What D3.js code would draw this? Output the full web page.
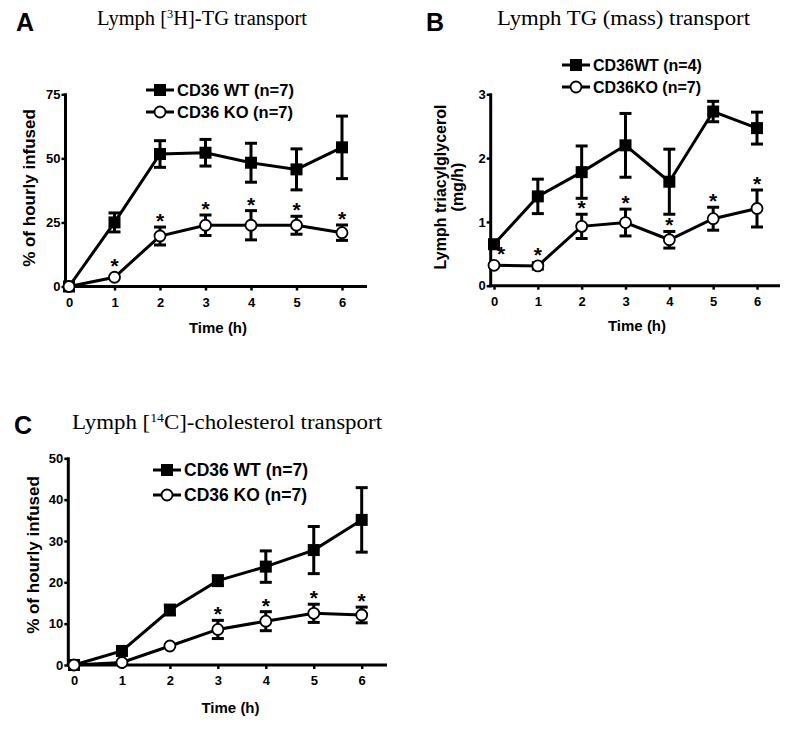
<!DOCTYPE html>
<html><head><meta charset="utf-8">
<script src="https://cdn.jsdelivr.net/npm/d3@7"></script>
<style>body{margin:0;background:#fff}svg{display:block}</style>
</head><body>
<svg id="c" width="791" height="738"></svg>
<script>
const hours = [0,1,2,3,4,5,6];
// Panel A: [3H]-TG transport (% of hourly infused)
const aWT = [0, 25, 51.7, 52.2, 48.3, 45.7, 54.3];
const aWTerr = [0, 3.7, 5.2, 5.2, 7.6, 8, 12.2];
const aKO = [0, 3.6, 19.7, 23.9, 23.9, 23.9, 21];
const aKOerr = [0, 0, 3.5, 4, 5.7, 3.5, 3];
const aStars = [1,2,3,4,5,6];
const aTicks = [0,25,50,75];
// Panel B: TG mass transport (mg/h)
const bWT = [0.65, 1.40, 1.78, 2.20, 1.63, 2.73, 2.47];
const bWTerr = [0, 0.27, 0.41, 0.5, 0.51, 0.16, 0.25];
const bKO = [0.32, 0.31, 0.93, 0.99, 0.72, 1.05, 1.21];
const bKOerr = [0, 0.05, 0.19, 0.21, 0.13, 0.18, 0.29];
const bStars = [0,1,2,3,4,5,6];
const bTicks = [0,1,2,3];
// Panel C: [14C]-cholesterol transport (% of hourly infused)
const cWT = [0, 3.4, 13.3, 20.4, 23.8, 27.8, 35.1];
const cWTerr = [0, 0, 1.2, 1.2, 3.8, 5.7, 7.8];
const cKO = [0, 0.6, 4.6, 8.6, 10.6, 12.5, 12.1];
const cKOerr = [0, 0, 0, 2.2, 2.3, 2.2, 1.9];
const cStars = [3,4,5,6];
const cTicks = [0,10,20,30,40,50];

const svg = d3.select("#c");
const SANS = "'Liberation Sans', Arial, sans-serif";
const SERIF = "'Liberation Serif', 'Times New Roman', serif";

function panel(o){
  const g = svg.append("g");
  const x = d3.scaleLinear().domain([0,6]).range([o.x0, o.x6]);
  const y = d3.scaleLinear().domain([0, o.ymax]).range([o.yb, o.yt]);
  // panel letter
  g.append("text").attr("x", o.lx).attr("y", o.ly).attr("font-family", SANS)
    .attr("font-weight","bold").attr("font-size",25).text(o.letter);
  // title
  const t = g.append("text").attr("x", o.tx).attr("y", o.ty).attr("font-family", SERIF)
    .attr("font-size", 20).attr("textLength", o.tlen).attr("lengthAdjust","spacingAndGlyphs");
  o.title.forEach(p => {
    const s = t.append("tspan").text(p.t);
    if (p.sup) s.attr("baseline-shift","super").attr("font-size",12);
  });
  // axes
  const yAxis = d3.axisLeft(y).tickValues(o.ticks).tickSize(4).tickPadding(1).tickFormat(d3.format("d"));
  const ya = g.append("g").attr("transform",`translate(${o.yax},0)`).call(yAxis);
  const xAxis = d3.axisBottom(x).tickValues(hours).tickSize(4).tickPadding(7).tickFormat(d3.format("d"));
  const xa = g.append("g").attr("transform",`translate(0,${o.yb})`).call(xAxis);
  [ya, xa].forEach(a => {
    a.select(".domain").remove();
    a.selectAll("line").attr("stroke","#000").attr("stroke-width",2.5);
    a.selectAll("text").attr("font-family", SANS).attr("font-weight","bold")
      .attr("font-size",13).attr("fill","#000");
  });
  g.append("line").attr("x1",o.yax).attr("x2",o.yax).attr("y1",o.yt-1).attr("y2",o.yb+1.5)
    .attr("stroke","#000").attr("stroke-width",3);
  g.append("line").attr("x1",o.yax-1.5).attr("x2",o.xend).attr("y1",o.yb).attr("y2",o.yb)
    .attr("stroke","#000").attr("stroke-width",3);
  // axis titles
  g.append("text").attr("x",(o.x0+o.xend)/2).attr("y",o.xty).attr("text-anchor","middle")
    .attr("font-family",SANS).attr("font-weight","bold").attr("font-size",15).text("Time (h)");
  o.ylab.forEach((s,i)=>{
    g.append("text").attr("transform",`translate(${o.ytx + i*17},${o.yty}) rotate(-90)`)
      .attr("text-anchor","middle").attr("font-family",SANS).attr("font-weight","bold")
      .attr("font-size",o.ylfs).text(s);
  });
  const line = d3.line().x((d,i)=>x(hours[i])).y(d=>y(d));
  function series(vals, errs, filled){
    g.append("path").attr("d", line(vals)).attr("fill","none").attr("stroke","#000").attr("stroke-width",3);
    vals.forEach((v,i)=>{
      const e = errs[i];
      if (e > 0){
        const cx = x(hours[i]);
        g.append("line").attr("x1",cx).attr("x2",cx).attr("y1",y(v+e)).attr("y2",y(v-e))
          .attr("stroke","#000").attr("stroke-width",3);
        [v+e, v-e].forEach(w => g.append("line").attr("x1",cx-6).attr("x2",cx+6)
          .attr("y1",y(w)).attr("y2",y(w)).attr("stroke","#000").attr("stroke-width",3));
      }
    });
    vals.forEach((v,i)=>{
      if (filled) g.append("rect").attr("x",x(hours[i])-6).attr("y",y(v)-6).attr("width",12).attr("height",12).attr("fill","#000");
      else g.append("circle").attr("cx",x(hours[i])).attr("cy",y(v)).attr("r",5.5).attr("fill","#fff").attr("stroke","#000").attr("stroke-width",1.8);
    });
  }
  series(o.wt, o.wterr, true);
  series(o.ko, o.koerr, false);
  o.stars.forEach(i=>{
    const v = o.ko[i] + o.koerr[i];
    const dx = i===0 && o.starShift ? 7 : 0;
    const top = Math.min(y(v), y(o.ko[i]) - 5);
    g.append("text").attr("x", x(hours[i])+dx).attr("y", top + 1).attr("text-anchor","middle")
      .attr("font-family",SANS).attr("font-weight","bold").attr("font-size",21).text("*");
  });
  // legend
  o.legend.forEach((s,i)=>{
    const ly = o.legy + i*o.legdy;
    g.append("line").attr("x1",o.legx).attr("x2",o.legx+28).attr("y1",ly).attr("y2",ly).attr("stroke","#000").attr("stroke-width",3);
    if (i===0) g.append("rect").attr("x",o.legx+14-6).attr("y",ly-6).attr("width",12).attr("height",12).attr("fill","#000");
    else g.append("circle").attr("cx",o.legx+14).attr("cy",ly).attr("r",5.5).attr("fill","#fff").attr("stroke","#000").attr("stroke-width",1.8);
    g.append("text").attr("x",o.legx+31).attr("y",ly+5.5).attr("font-family",SANS).attr("font-weight","bold")
      .attr("font-size",o.legfs).text(s);
  });
}

panel({letter:"A", lx:16, ly:31, tx:97, ty:25, tlen:210,
  title:[{t:"Lymph ["},{t:"3",sup:true},{t:"H]-TG transport"}],
  x0:69, x6:342, xend:367, yax:65.5, yb:286.5, yt:94.3, ymax:75, ticks:aTicks,
  xty:333, ytx:35, yty:188, ylab:["% of hourly infused"], ylfs:17,
  wt:aWT, wterr:aWTerr, ko:aKO, koerr:aKOerr, stars:aStars,
  legend:["CD36 WT (n=7)","CD36 KO (n=7)"], legx:146, legy:90, legdy:22, legfs:16.5});

panel({letter:"B", lx:426, ly:31, tx:497, ty:25, tlen:253,
  title:[{t:"Lymph TG (mass) transport"}],
  x0:494, x6:757, xend:780, yax:490.7, yb:285.7, yt:94.3, ymax:3, ticks:bTicks,
  xty:331, ytx:446, yty:187, ylab:["Lymph triacylglycerol","(mg/h)"], ylfs:16,
  wt:bWT, wterr:bWTerr, ko:bKO, koerr:bKOerr, stars:bStars, starShift:true,
  legend:["CD36WT (n=4)","CD36KO (n=7)"], legx:562, legy:65, legdy:22, legfs:16});

panel({letter:"C", lx:14, ly:434, tx:72, ty:429, tlen:310,
  title:[{t:"Lymph ["},{t:"14",sup:true},{t:"C]-cholesterol transport"}],
  x0:74, x6:361.7, xend:387, yax:68.3, yb:665, yt:458.3, ymax:50, ticks:cTicks,
  xty:713, ytx:39, yty:555, ylab:["% of hourly infused"], ylfs:17,
  wt:cWT, wterr:cWTerr, ko:cKO, koerr:cKOerr, stars:cStars,
  legend:["CD36 WT (n=7)","CD36 KO (n=7)"], legx:153, legy:470, legdy:25, legfs:17.5});
</script>
</body></html>
